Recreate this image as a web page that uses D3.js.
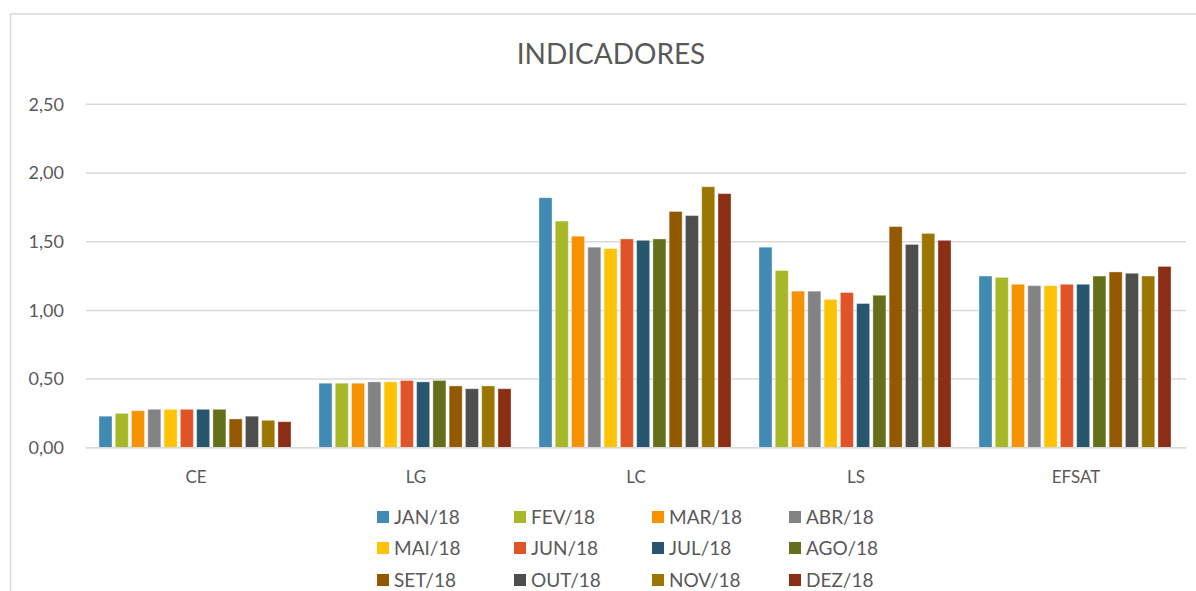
<!DOCTYPE html>
<html>
<head>
<meta charset="utf-8">
<script src="https://cdn.jsdelivr.net/npm/d3@7"></script>
<style>
  html, body { margin: 0; padding: 0; background: #fff; }
  svg { display: block; font-family: Lato, "Open Sans", sans-serif; }
</style>
</head>
<body>
<svg id="chart" width="1196" height="591"></svg>
<script>
const categories = ["CE", "LG", "LC", "LS", "EFSAT"];
const months = ["JAN/18","FEV/18","MAR/18","ABR/18","MAI/18","JUN/18","JUL/18","AGO/18","SET/18","OUT/18","NOV/18","DEZ/18"];
const colors = ["#418AB3","#A6B727","#F69200","#838383","#FEC306","#DF5327","#27566E","#656E1A","#935800","#4E4E4E","#9A7500","#8A2E16"];
// values per month, order: CE, LG, LC, LS, EFSAT
const JAN = [0.23, 0.47, 1.82, 1.46, 1.25];
const FEV = [0.25, 0.47, 1.65, 1.29, 1.24];
const MAR = [0.27, 0.47, 1.54, 1.14, 1.19];
const ABR = [0.28, 0.48, 1.46, 1.14, 1.18];
const MAI = [0.28, 0.48, 1.45, 1.08, 1.18];
const JUN = [0.28, 0.49, 1.52, 1.13, 1.19];
const JUL = [0.28, 0.48, 1.51, 1.05, 1.19];
const AGO = [0.28, 0.49, 1.52, 1.11, 1.25];
const SET = [0.21, 0.45, 1.72, 1.61, 1.28];
const OUT = [0.23, 0.43, 1.69, 1.48, 1.27];
const NOV = [0.20, 0.45, 1.90, 1.56, 1.25];
const DEZ = [0.19, 0.43, 1.85, 1.51, 1.32];
const series = [JAN, FEV, MAR, ABR, MAI, JUN, JUL, AGO, SET, OUT, NOV, DEZ];
const yTicks = [0, 0.5, 1.0, 1.5, 2.0, 2.5];

const svg = d3.select("#chart");
const textColor = "#595959";
const gridColor = "#D9D9D9";

// chart border
svg.append("rect").attr("x", 10.5).attr("y", 14).attr("width", 1250).attr("height", 700)
  .attr("fill", "none").attr("stroke", gridColor).attr("stroke-width", 1.5);

// title
svg.append("text").attr("x", 611).attr("y", 64).attr("text-anchor", "middle")
  .attr("fill", textColor).attr("font-size", 28).text("INDICADORES");

const x0 = d3.scaleBand().domain(categories).range([86, 1186]).padding(0);
const x1 = d3.scaleBand().domain(months).range([13, 205]).paddingInner(0.2).paddingOuter(0);
const y = d3.scaleLinear().domain([0, 2.5]).range([447.8, 104.3]);

const fmt = v => d3.format(".2f")(v).replace(".", ",");

// gridlines
svg.append("g").selectAll("line").data(yTicks).join("line")
  .attr("x1", 86).attr("x2", 1186)
  .attr("y1", d => y(d)).attr("y2", d => y(d))
  .attr("stroke", gridColor).attr("stroke-width", 1.5);

// y tick labels
svg.append("g").selectAll("text").data(yTicks).join("text")
  .attr("x", 64).attr("y", d => y(d)).attr("dy", "0.35em")
  .attr("text-anchor", "end").attr("fill", textColor).attr("font-size", 18)
  .text(fmt);

// bars
const groups = svg.append("g").selectAll("g").data(categories).join("g")
  .attr("transform", c => `translate(${x0(c)},0)`);
groups.selectAll("rect").data((c, ci) => months.map((m, mi) => ({m, mi, v: series[mi][ci]})))
  .join("rect")
  .attr("x", d => x1(d.m))
  .attr("width", x1.bandwidth())
  .attr("y", d => y(d.v))
  .attr("height", d => y(0) - y(d.v))
  .attr("fill", d => colors[d.mi])
  .attr("stroke", "#fff").attr("stroke-opacity", 0.35).attr("stroke-width", 1);

// baseline
svg.append("line").attr("x1", 86).attr("x2", 1186).attr("y1", y(0)).attr("y2", y(0))
  .attr("stroke", gridColor).attr("stroke-width", 1.5);

// category labels
svg.append("g").selectAll("text").data(categories).join("text")
  .attr("x", c => x0(c) + x0.bandwidth() / 2).attr("y", 483)
  .attr("text-anchor", "middle").attr("fill", textColor).attr("font-size", 17)
  .text(c => c);

// legend
const colX = [377, 514, 652, 789];
const rowY = [517, 548, 580];
const leg = svg.append("g").selectAll("g").data(months).join("g")
  .attr("transform", (m, i) => `translate(${colX[i % 4]},${rowY[Math.floor(i / 4)]})`);
leg.append("rect").attr("x", 0).attr("y", -6).attr("width", 12).attr("height", 12)
  .attr("fill", (m, i) => colors[i]);
leg.append("text").attr("x", 17).attr("y", 0).attr("dy", "0.36em")
  .attr("fill", textColor).attr("font-size", 19).text(m => m);
</script>
</body>
</html>
